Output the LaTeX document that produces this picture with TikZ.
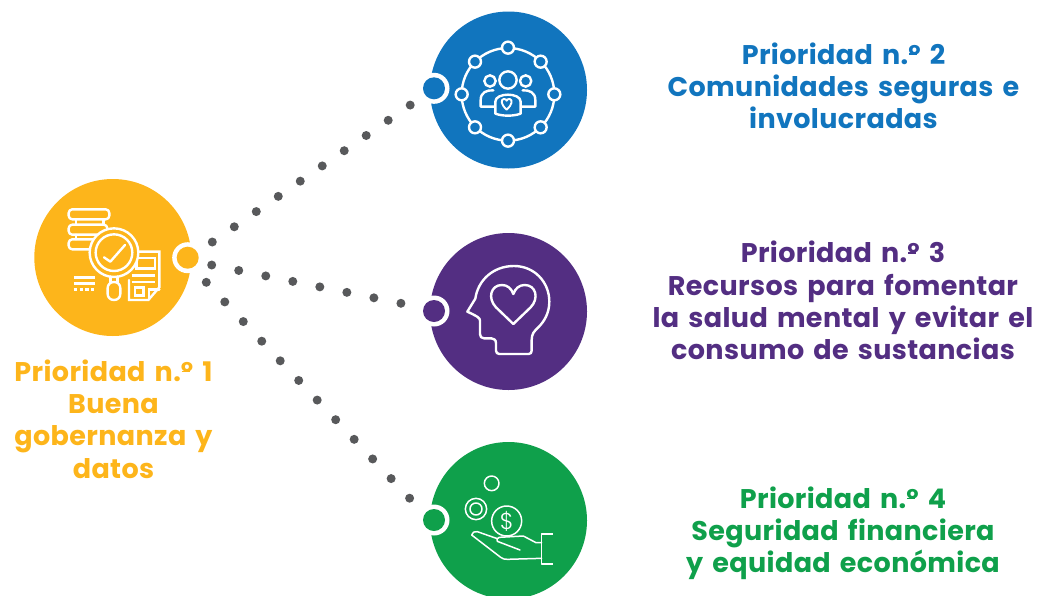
\documentclass[tikz,border=0pt]{standalone}
\usepackage{fontspec}
\setmainfont{Poppins}[LetterSpace=1.4,WordSpace=1.5]
\newfontfamily\dollarfont{Poppins Light}
\definecolor{cyel}{HTML}{FDB51B}
\definecolor{cblu}{HTML}{1175BE}
\definecolor{cpur}{HTML}{532E82}
\definecolor{cgrn}{HTML}{0FA04B}
\definecolor{cdot}{HTML}{58595B}
\newcommand\ordn{\rlap{\kern0.03em\rule[0.34em]{0.29em}{0.05em}}º}
\tikzset{
  bigdisc/.style={circle,inner sep=0pt,minimum size=157pt,fill=#1},
  hubring/.style={circle,inner sep=0pt,minimum size=31pt,fill=white},
  hubdisc/.style={circle,inner sep=0pt,minimum size=22pt,fill=#1},
  dotline/.style={line width=9pt,line cap=round,color=cdot,dash pattern=on 0pt off #1pt},
  label/.style={align=center,text=#1,font=\fontsize{27}{32.2}\selectfont\bfseries},
  ic/.style={draw=white,line width=2.4pt,line join=round,line cap=round},
  icg/.style={draw=white,line width=1.5pt,line join=round,line cap=round},
}
\begin{document}
\begin{tikzpicture}[x=1pt,y=-1pt]
\useasboundingbox (0,0) rectangle (1041,595);
\clip (0,0) rectangle (1041,595);
% connectors
\coordinate (a1) at (212.3,242); \coordinate (b1) at (410.3,105);
\coordinate (a2) at (211.7,265); \coordinate (b2) at (401,303.3);
\coordinate (a3) at (206.3,282.3); \coordinate (b3) at (409.7,498.3);
\draw[dotline=26.74] (a1) -- (b1);
\draw[dotline=27.58] (a2) -- (b2);
\draw[dotline=26.96] (a3) -- (b3);
% discs
\node[bigdisc=cyel] (p1) at (112.8,257.5) {};
\node[bigdisc=cblu] (p2) at (508.5,90) {};
\node[bigdisc=cpur] (p3) at (508.5,311.5) {};
\node[bigdisc=cgrn] (p4) at (508.5,520.5) {};
\node[hubring] (r1) at (187.7,257.7) {}; \node[hubdisc=cyel] (h1) at (r1) {};
\node[hubring] (r2) at (434,88.3) {}; \node[hubdisc=cblu] (h2) at (r2) {};
\node[hubring] (r3) at (434,311) {}; \node[hubdisc=cpur] (h3) at (r3) {};
\node[hubring] (r4) at (434,520) {}; \node[hubdisc=cgrn] (h4) at (r4) {};
% labels
\node[label=cyel] (t1) at (113.5,419) {Prioridad n.\ordn{} 1\\Buena\\gobernanza y\\datos};
\node[label=cblu] (t2) at (843.5,85.5) {Prioridad n.\ordn{} 2\\Comunidades seguras e\\involucradas};
\node[label=cpur] (t3) at (843,300.5) {Prioridad n.\ordn{} 3\\Recursos para fomentar\\la salud mental y evitar el\\consumo de sustancias};
\node[label=cgrn] (t4) at (843,533.5) {Prioridad n.\ordn{} 4\\Seguridad financiera\\y equidad económica};
% icon 1
\begin{scope}[shift={(20,170)},x=0.3333pt,y=-0.3333pt]
\draw[ic,rounded corners=3.6pt] (146,118) rectangle (268,148);
\draw[ic,rounded corners=3.6pt] (146,164) rectangle (262,194);
\draw[ic,rounded corners=3.6pt] (146,208) rectangle (240,238);
\draw[ic] (168,148) -- (168,164) (250,148) -- (250,164) (168,194) -- (168,208);
\draw[ic,line join=miter] (358,245) -- (418,245) -- (418,352) -- (385,390) -- (327,390) -- (327,330);
\draw[ic,line join=miter] (350,264) rectangle (405,295);
\draw[ic,line cap=butt] (335,317) -- (405,317) (335,336) -- (405,336);
\draw[ic,line join=miter] (345,352) rectangle (370,376);
\draw[ic,line join=miter] (387,388) -- (387,358) -- (418,358);
\draw[ic,line cap=butt] (162,322) -- (226,322) (162,340) -- (226,340);
\draw[ic,line cap=butt,dash pattern=on 3.4pt off 2.3pt] (162,358) -- (226,358);
\draw[ic,fill=cyel] (282,248) circle (73);
\draw[ic] (282,248) circle (55);
\draw[ic] (252,262) -- (271,275) -- (315,225);
\draw[ic] (272,320) -- (272,338) (292,320) -- (292,338);
\draw[ic,rounded corners=6pt,fill=cyel] (263,336) rectangle (301,390);
\end{scope}
% icon 2
\begin{scope}[shift={(410,5)},x=0.3333pt,y=-0.3333pt]
\draw[ic] (294,268) circle (139);
\foreach \px/\py in {294/128,294/407,155/268,433/268,195/170,392/170,195/367,392/367}{
  \draw[ic,fill=cblu] (\px,\py) circle (18);
}
\draw[ic] (258,305) -- (212,305) -- (212,285) .. controls (212,262) and (230,255) .. (250,256);
\draw[ic] (330,305) -- (376,305) -- (376,285) .. controls (376,262) and (358,255) .. (338,256);
\draw[ic,fill=cblu] (294,225) circle (26);
\draw[ic,fill=cblu] (240,228) circle (17);
\draw[ic,fill=cblu] (347,228) circle (17);
\draw[ic,fill=cblu] (256,326) -- (256,290) .. controls (256,262) and (332,262) .. (332,290) -- (332,326) .. controls (310,334) and (278,334) .. (256,326) -- cycle;
\draw[ic,line width=1.9pt] (290,314) .. controls (272,298) and (272,284) .. (281,282) .. controls (286,281) and (289,284) .. (290,287) .. controls (291,284) and (294,281) .. (299,282) .. controls (308,284) and (308,298) .. (290,314) -- cycle;
\end{scope}
% icon 3
\begin{scope}[shift={(410,230)},x=0.3333pt,y=-0.3333pt]
\draw[ic] (365,362) .. controls (365,368) and (362,372) .. (356,372) -- (268,372) .. controls (262,372) and (258,368) .. (258,362) -- (258,340) .. controls (258,330) and (252,325) .. (244,325) -- (222,325) .. controls (214,325) and (210,320) .. (210,312) -- (210,272) .. controls (210,264) and (204,260) .. (172,245) -- (196,206) .. controls (204,150) and (250,108) .. (312,108) .. controls (372,108) and (418,155) .. (418,215) .. controls (418,250) and (402,275) .. (385,292) .. controls (372,304) and (365,312) .. (365,330) -- cycle;
\draw[ic] (310,282) -- (258,232) .. controls (232,205) and (242,165) .. (276,165) .. controls (292,165) and (304,175) .. (310,192) .. controls (316,175) and (328,165) .. (344,165) .. controls (378,165) and (388,205) .. (362,232) -- cycle;
\end{scope}
% icon 4
\begin{scope}[shift={(410,440)},x=0.3333pt,y=-0.3333pt]
\draw[icg] (245,130) circle (22);
\draw[icg] (198,207) circle (32);
\draw[icg] (198,207) circle (18);
\draw[icg] (290,243) circle (45);
\node[text=white,inner sep=0pt,font=\dollarfont\fontsize{23}{23}\selectfont] (dollar) at (290,243) {\$};
\draw[icg] (395,308) -- (378,308) -- (340,288) -- (268,292) .. controls (262,294) and (258,298) .. (262,304) -- (330,330);
\draw[icg] (262,296) -- (202,275) .. controls (194,272) and (186,278) .. (185,285) -- (272,352) .. controls (278,357) and (284,358) .. (292,358) -- (395,355);
\draw[icg,line cap=butt] (428,282) -- (395,282) -- (395,372) -- (428,372);
\end{scope}
\end{tikzpicture}
\end{document}
